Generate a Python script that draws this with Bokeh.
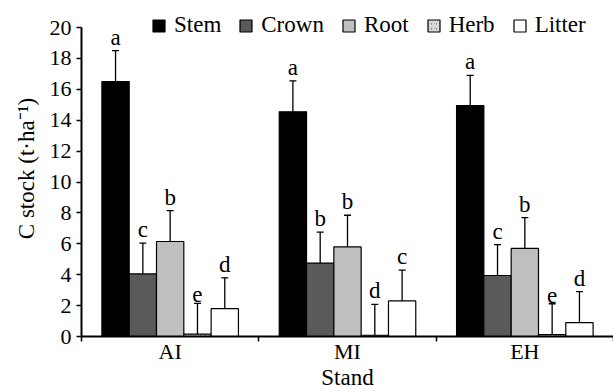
from bokeh.plotting import figure
from bokeh.models import (ColumnDataSource, Whisker, TeeHead, FixedTicker, Legend,
                          LegendItem, Range1d)
from bokeh.core.properties import value
from bokeh.embed import file_html
from bokeh.resources import INLINE

# ---------------- data ----------------
stands = ["AI", "MI", "EH"]
series = ["Stem", "Crown", "Root", "Herb", "Litter"]

stem = [16.5, 14.55, 14.95]
stem_err = [2.0, 2.0, 1.95]
stem_sig = ["a", "a", "a"]

crown = [4.05, 4.75, 3.95]
crown_err = [2.0, 2.0, 2.0]
crown_sig = ["c", "b", "c"]

root = [6.15, 5.8, 5.7]
root_err = [2.0, 2.05, 2.0]
root_sig = ["b", "b", "b"]

herb = [0.15, 0.08, 0.12]
herb_err = [2.0, 2.0, 2.0]
herb_sig = ["e", "d", "e"]

litter = [1.8, 2.3, 0.9]
litter_err = [2.0, 2.0, 2.0]
litter_sig = ["d", "c", "d"]

y_ticks = [0, 2, 4, 6, 8, 10, 12, 14, 16, 18, 20]

values = [stem, crown, root, herb, litter]
errors = [stem_err, crown_err, root_err, herb_err, litter_err]
sigs = [stem_sig, crown_sig, root_sig, herb_sig, litter_sig]
lower_drawn = [True, True, True, False, False]

# ---------------- styles ----------------
FONT = "Liberation Serif"
FS = "23px"
FS_TICK = "22px"
styles = [
    dict(fill_color="black"),
    dict(fill_color="#5a5a5a"),
    dict(fill_color="#bfbfbf"),
    dict(fill_color="#808080", hatch_pattern="/", hatch_color="#e0e0e0", hatch_scale=5, hatch_weight=2),
    dict(fill_color="white"),
]
bar_w = 0.154
FRAME_H_EST = 335

p = figure(width=613, height=392,
           min_border_left=81, min_border_right=0, min_border_top=0, min_border_bottom=55,
           x_range=Range1d(0, 3), y_range=Range1d(0, 21.75),
           output_backend="svg", toolbar_location=None, title=None)
p.outline_line_color = None
p.xgrid.visible = False
p.ygrid.visible = False
p.background_fill_color = "white"

items = []
for j, name in enumerate(series):
    xs = [i + 0.5 + (j - 2) * bar_w for i in range(len(stands))]
    vals = values[j]
    errs = errors[j]
    up = [v + e for v, e in zip(vals, errs)]
    lo = [v - e for v, e in zip(vals, errs)]
    src = ColumnDataSource(dict(x=xs, top=vals, up=up, lo=lo, sig=sigs[j]))
    r = p.vbar(x="x", top="top", bottom=0, width=bar_w, source=src,
               line_color="black", line_width=1.2, **styles[j])
    items.append(LegendItem(label=name, renderers=[r]))
    w_up = Whisker(source=src, base="x", upper="up", lower="top", dimension="height",
                   line_color="black", line_width=1.3,
                   upper_head=TeeHead(size=7, line_color="black", line_width=1.3),
                   lower_head=None)
    p.add_layout(w_up)
    if lower_drawn[j]:
        w_lo = Whisker(source=src, base="x", upper="top", lower="lo", dimension="height",
                       line_color="black", line_width=1.3,
                       lower_head=TeeHead(size=7, line_color="black", line_width=1.3),
                       upper_head=None)
        p.add_layout(w_lo)
    p.text(x="x", y="up", text="sig", source=src, text_align="center",
           text_baseline="bottom", y_offset=-1, text_font=value(FONT),
           text_font_size=FS, text_color="black")

legend = Legend(items=items, orientation="horizontal", location="top_left",
                glyph_width=15, glyph_height=15, label_standoff=8, spacing=17,
                padding=0, margin=0, border_line_color=None, background_fill_alpha=0,
                label_text_font=FONT, label_text_font_size=FS, label_text_color="black")
legend.location = (70, FRAME_H_EST - 37)
p.add_layout(legend)

# y axis
ya = p.yaxis[0]
ya.ticker = FixedTicker(ticks=y_ticks)
ya.bounds = (0, 20)
ya.axis_line_width = 2
ya.major_tick_in = 0
ya.major_tick_out = 5
ya.major_tick_line_width = 1.5
ya.minor_tick_line_color = None
ya.major_label_text_font = FONT
ya.major_label_text_font_size = FS_TICK
ya.major_label_text_color = "black"
ya.major_label_standoff = 5
ya.axis_label = "C stock (t·ha⁻¹)"
ya.axis_label_text_font = FONT
ya.axis_label_text_font_size = FS
ya.axis_label_text_font_style = "normal"
ya.axis_label_text_color = "black"
ya.axis_label_standoff = 8

# x axis
xa = p.xaxis[0]
xa.ticker = FixedTicker(ticks=[0.5, 1.5, 2.5], minor_ticks=[0, 1, 2, 3])
xa.major_label_overrides = {0.5: stands[0], 1.5: stands[1], 2.5: stands[2]}
xa.axis_line_width = 2
xa.major_tick_in = 0
xa.major_tick_out = 0
xa.minor_tick_in = 0
xa.minor_tick_out = 5
xa.minor_tick_line_width = 1.5
xa.minor_tick_line_color = "black"
xa.major_label_text_font = FONT
xa.major_label_text_font_size = FS_TICK
xa.major_label_text_color = "black"
xa.major_label_standoff = -3
xa.axis_label = "Stand"
xa.axis_label_text_font = FONT
xa.axis_label_text_font_size = FS
xa.axis_label_text_font_style = "normal"
xa.axis_label_text_color = "black"
xa.axis_label_standoff = -2

open("out.html", "w").write(file_html(p, INLINE))
